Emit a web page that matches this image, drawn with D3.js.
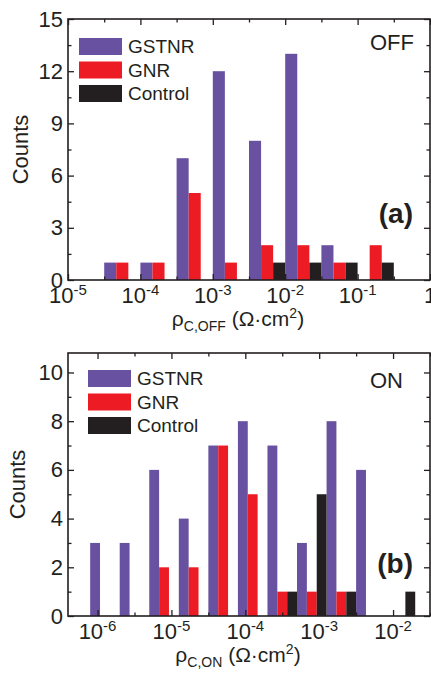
<!DOCTYPE html>
<html>
  <head>
    <meta charset="utf-8">
    <script src="https://d3js.org/d3.v7.min.js"></script>
    <style>
      body { margin: 0; background: #fff; }
      text { font-family: "Liberation Sans", Arial, sans-serif; fill: #231f20; }
    </style>
  </head>
  <body>
    <svg width="431" height="673"></svg>
    <script>
      const seriesNames = ['GSTNR', 'GNR', 'Control'];
      const seriesColors = ['#6951a1', '#ed1c24', '#231f20'];

      // panel (a): bins start at these log10 values, 0.5 decade wide
      const offBins = [-4.5, -4.0, -3.5, -3.0, -2.5, -2.0, -1.5, -1.0];
      const offGSTNR = [1, 1, 7, 12, 8, 13, 2, 0];
      const offGNR = [1, 1, 5, 1, 2, 2, 1, 2];
      const offControl = [0, 0, 0, 0, 1, 1, 1, 1];
      const offXTicks = [-5, -4, -3, -2, -1, 0];
      const offYTicks = [0, 3, 6, 9, 12, 15];

      // panel (b): bins 0.4 decade wide
      const onBins = [-6.1, -5.7, -5.3, -4.9, -4.5, -4.1, -3.7, -3.3, -2.9, -2.5, -2.1];
      const onGSTNR = [3, 3, 6, 4, 7, 8, 7, 3, 8, 6, 0];
      const onGNR = [0, 0, 2, 2, 7, 5, 1, 1, 1, 0, 0];
      const onControl = [0, 0, 0, 0, 0, 0, 1, 5, 1, 0, 1];
      const onXTicks = [-6, -5, -4, -3, -2];
      const onYTicks = [0, 2, 4, 6, 8, 10];

      const svg = d3.select('svg');

      function panel(o) {
        const left = 68, right = 430;
        const x = d3.scaleLog().domain(o.xDomain).range([left, right]);
        const y = d3.scaleLinear().domain(o.yDomain).range([o.bottom, o.top]);
        const g = svg.append('g');
        const series = [o.g1, o.g2, o.g3];

        series.forEach((vals, si) => {
          g.selectAll(null).data(o.bins.map((b, i) => ({ b, v: vals[i] })).filter(d => d.v > 0))
            .enter().append('rect')
              .attr('x', d => x(Math.pow(10, d.b + si * o.binW / 3)))
              .attr('width', d => x(Math.pow(10, d.b + (si + 1) * o.binW / 3)) - x(Math.pow(10, d.b + si * o.binW / 3)))
              .attr('y', d => y(d.v))
              .attr('height', d => y(0) - y(d.v))
              .attr('fill', seriesColors[si]);
        });

        // ticks (inward) on all four sides
        const xMajor = o.xTicks.map(e => Math.pow(10, e)).filter(v => v >= o.xDomain[0] && v <= o.xDomain[1]);
        const xMinor = o.xTicks.map(e => Math.pow(10, e + 0.5)).filter(v => v >= o.xDomain[0] && v <= o.xDomain[1]);
        const yMinor = d3.pairs(o.yTicks).map(p => (p[0] + p[1]) / 2);

        const tickAxes = [
          [d3.axisBottom(x).tickValues(xMajor).tickSize(-6), `translate(0,${o.bottom})`],
          [d3.axisBottom(x).tickValues(xMinor).tickSize(-3.5), `translate(0,${o.bottom})`],
          [d3.axisTop(x).tickValues(xMajor).tickSize(-6), `translate(0,${o.top})`],
          [d3.axisTop(x).tickValues(xMinor).tickSize(-3.5), `translate(0,${o.top})`],
          [d3.axisRight(y).tickValues(o.yTicks).tickSize(-6), `translate(${right},0)`],
          [d3.axisRight(y).tickValues(yMinor).tickSize(-3.5), `translate(${right},0)`],
          [d3.axisLeft(y).tickValues(yMinor).tickSize(-3.5), `translate(${left},0)`]
        ];
        tickAxes.forEach(([ax, tr]) => {
          const a = g.append('g').attr('transform', tr).call(ax.tickFormat('').tickSizeOuter(0));
          a.select('.domain').remove();
          a.selectAll('line').attr('stroke', '#231f20').attr('stroke-width', 1.3);
        });

        const yAxis = g.append('g').attr('transform', `translate(${left},0)`)
          .call(d3.axisLeft(y).tickValues(o.yTicks).tickSize(-6).tickSizeOuter(0).tickPadding(5));
        yAxis.select('.domain').remove();
        yAxis.selectAll('line').attr('stroke', '#231f20').attr('stroke-width', 1.3);
        yAxis.selectAll('text').attr('font-size', 22).attr('fill', '#231f20')
          .attr('font-family', '"Liberation Sans", Arial, sans-serif');

        g.append('rect')
          .attr('x', left).attr('y', o.top)
          .attr('width', right - left).attr('height', o.bottom - o.top)
          .attr('fill', 'none').attr('stroke', '#231f20').attr('stroke-width', 1.6);

        // x tick labels 10^n
        o.xTicks.forEach(e => {
          const t = g.append('text')
            .attr('x', x(Math.pow(10, e))).attr('y', o.bottom + 23)
            .attr('text-anchor', 'middle').attr('font-size', 22);
          if (e === 0) { t.text('1'); return; }
          t.append('tspan').text('10');
          t.append('tspan').text(String(e))
            .attr('font-size', 15).attr('dy', -8);
        });

        // axis titles
        g.append('text')
          .attr('transform', `translate(${o.countsX},${(o.top + o.bottom) / 2}) rotate(-90)`)
          .attr('text-anchor', 'middle').attr('font-size', 22)
          .text('Counts');

        const xt = g.append('text')
          .attr('x', 238).attr('y', o.bottom + 46)
          .attr('text-anchor', 'middle').attr('font-size', 21);
        xt.append('tspan').text('ρ');
        xt.append('tspan').text(o.sub).attr('font-size', 14).attr('dy', 5);
        xt.append('tspan').text(' (Ω·cm').attr('dy', -5);
        xt.append('tspan').text('2').attr('font-size', 14).attr('dy', -8);
        xt.append('tspan').text(')').attr('dy', 8);

        // legend
        seriesNames.forEach((name, i) => {
          const ly = o.legendTop + i * 23.5;
          g.append('rect')
            .attr('x', o.legendX).attr('y', ly)
            .attr('width', 43).attr('height', 17)
            .attr('fill', seriesColors[i]);
          g.append('text')
            .attr('x', o.legendX + 49).attr('y', ly + 15)
            .attr('font-size', 19).text(name);
        });

        g.append('text')
          .attr('x', o.stateX).attr('y', o.top + o.stateDy)
          .attr('text-anchor', 'end').attr('font-size', 22)
          .text(o.state);

        g.append('text')
          .attr('x', 413).attr('y', o.letterY)
          .attr('text-anchor', 'end').attr('font-size', 28).attr('font-weight', 'bold')
          .text(o.letter);
      }

      panel({
        xDomain: [1e-5, 1], yDomain: [0, 15], top: 19, bottom: 280,
        bins: offBins, binW: 0.5, g1: offGSTNR, g2: offGNR, g3: offControl,
        xTicks: offXTicks, yTicks: offYTicks, sub: 'C,OFF', countsX: 28,
        legendX: 79, legendTop: 38, state: 'OFF', stateX: 414, stateDy: 31,
        letter: '(a)', letterY: 223
      });

      panel({
        xDomain: [Math.pow(10, -6.4), Math.pow(10, -1.5)], yDomain: [0, 10.8], top: 353, bottom: 616,
        bins: onBins, binW: 0.4, g1: onGSTNR, g2: onGNR, g3: onControl,
        xTicks: onXTicks, yTicks: onYTicks, sub: 'C,ON', countsX: 25,
        legendX: 88, legendTop: 370, state: 'ON', stateX: 403, stateDy: 35,
        letter: '(b)', letterY: 573
      });
    </script>
  </body>
</html>
